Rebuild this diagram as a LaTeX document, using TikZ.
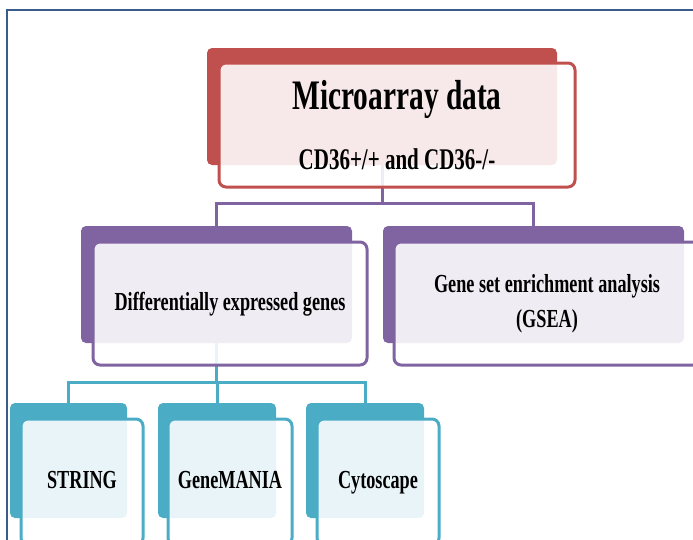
\documentclass[tikz,border=0pt]{standalone}
\usepackage{xcolor}
\usepackage{fontspec}
\setmainfont[FakeStretch=0.7]{Liberation Serif}

\definecolor{redbox}{HTML}{C0504D}
\definecolor{purplebox}{HTML}{8064A2}
\definecolor{tealbox}{HTML}{4BACC6}
\definecolor{framecol}{HTML}{385D8A}

\tikzset{
  back/.style={fill=#1, rounded corners=5pt, inner sep=0pt},
  front/.style={draw=#1, line width=3pt, rounded corners=7pt, fill=white, fill opacity=.88,
    text opacity=1, inner sep=0pt, align=center, font=\bfseries\fontsize{26}{35}\selectfont},
  oneline/.style={text height=18pt, text depth=5pt},
  link/.style={draw=#1, line width=3pt},
}

\begin{document}
\begin{tikzpicture}[x=1pt,y=-1pt]
  \useasboundingbox (0,0) rectangle (693,539);
  \clip (0,0) rectangle (693,539);
  \draw[framecol, line width=2.2pt] (7,10) rectangle (720,560);

  % back boxes
  \node[back=redbox, minimum width=350pt, minimum height=117pt] (mback) at (382,106.5) {};
  \node[back=purplebox, minimum width=271pt, minimum height=117pt] (dback) at (216.5,284.5) {};
  \node[back=purplebox, minimum width=301pt, minimum height=117pt] (gback) at (533.5,284.5) {};
  \node[back=tealbox, minimum width=117pt, minimum height=115pt] (sback) at (68.5,460.5) {};
  \node[back=tealbox, minimum width=118pt, minimum height=115pt] (nback) at (217,460.5) {};
  \node[back=tealbox, minimum width=118pt, minimum height=115pt] (cback) at (365,460.5) {};

  \draw[link=purplebox] (mback.south) |- ([yshift=22pt]dback.north) -| (dback.north);
  \draw[link=purplebox] (mback.south) |- ([yshift=22pt]gback.north) -| (gback.north);
  \draw[link=tealbox] (dback.south) |- ([yshift=20pt]sback.north) -| (sback.north);
  \draw[link=tealbox] (dback.south) |- ([yshift=20pt]nback.north) -| (nback.north);
  \draw[link=tealbox] (dback.south) |- ([yshift=20pt]cback.north) -| (cback.north);

  % front boxes
  \node[front=redbox, minimum width=356pt, minimum height=124pt,
    font=\bfseries\fontsize{30}{36}\selectfont] (mfront) at (397,125)
    {{\fontsize{42}{42}\selectfont Microarray data}\\[24pt]CD36+/+ and CD36-/-};
  \node[front=purplebox, oneline, minimum width=274pt, minimum height=123pt] (dfront) at (230,303.5) {Differentially expressed genes};
  \node[front=purplebox, minimum width=306pt, minimum height=123pt] (gfront) at (547,303.5) {Gene set enrichment analysis\\(GSEA)};
  \node[front=tealbox, oneline, minimum width=122pt, minimum height=126pt] (sfront) at (82,482) {STRING};
  \node[front=tealbox, oneline, minimum width=124pt, minimum height=126pt] (nfront) at (230,482) {GeneMANIA};
  \node[front=tealbox, oneline, minimum width=122pt, minimum height=126pt] (cfront) at (378,482) {Cytoscape};
\end{tikzpicture}
\end{document}
